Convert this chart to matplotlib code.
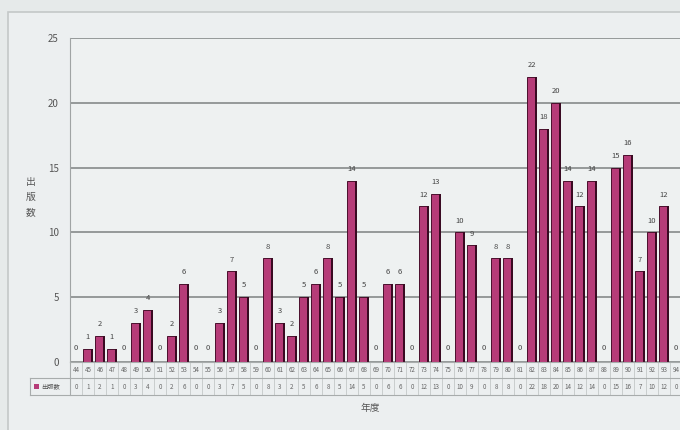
import matplotlib.pyplot as plt
from matplotlib.patches import Rectangle
from matplotlib.lines import Line2D

plt.rcParams['font.family'] = ['Noto Sans CJK JP', 'DejaVu Sans']

# 年度 (44 .. 94) と出版数
years = [str(y) for y in range(44, 95)]
counts = [0, 1, 2, 1, 0, 3, 4, 0, 2, 6,
          0, 0, 3, 7, 5, 0, 8, 3, 2, 5,
          6, 8, 5, 14, 5, 0, 6, 6, 0, 12,
          13, 0, 10, 9, 0, 8, 8, 0, 22, 18,
          20, 14, 12, 14, 0, 15, 16, 7, 10, 12,
          0]
series_name = '出版数'
x_title = '年度'
y_ticks = [0, 5, 10, 15, 20, 25]

W, H = 680, 430
fig = plt.figure(figsize=(6.8, 4.3), dpi=100, facecolor='#e6eaea')

# 外枠 (グラフエリア)
frame = Rectangle((8 / W, -0.1), 1, (H - 12) / H + 0.1, transform=fig.transFigure,
                  facecolor='#eceff0', edgecolor='#c4c8c8', lw=1.2, zorder=-5)
fig.patches.append(frame)

ax = fig.add_axes([70 / W, (H - 362) / H, 610 / W, (362 - 38) / H])
ax.set_facecolor('#eef1f1')
xs = list(range(len(counts)))
ax.set_xlim(-0.5, len(counts) - 1 + 4 / 12)
ax.set_ylim(0, 25)

# 3D風の棒: 正面 + 暗い側面
ax.bar([x - 0.09 for x in xs], counts, width=0.62, color='#b63c78',
       edgecolor='#4a0f2c', linewidth=0.7, zorder=3)
ax.bar([x + 0.3 for x in xs], counts, width=0.16, color='#3a0a22',
       linewidth=0, zorder=3)

for x, v in zip(xs, counts):
    ax.text(x, v + 0.6 if v else 0.8, str(v), ha='center', va='bottom',
            fontsize=5.5, color='#444444', zorder=4)

ax.set_yticks(y_ticks)
ax.set_yticklabels([str(t) for t in y_ticks], fontsize=7, color='#555555')
ax.tick_params(axis='y', length=0, pad=8)
ax.set_xticks([])
ax.grid(axis='y', color='#8e9292', lw=1.3, zorder=1)
for s in ['top', 'right', 'bottom']:
    ax.spines[s].set_visible(False)
ax.spines['left'].set_color('#a0a4a4')

# データテーブル
top = (H - 362) / H
row1 = (H - 378) / H
row2 = (H - 395) / H
line_kw = dict(transform=fig.transFigure, color='#a8acac', lw=0.8)
fig.add_artist(Line2D([70 / W, 1], [top, top], **line_kw))
fig.add_artist(Line2D([30 / W, 1], [row1, row1], **line_kw))
fig.add_artist(Line2D([30 / W, 1], [row2, row2], **line_kw))
fig.add_artist(Line2D([30 / W, 30 / W], [row2, row1], **line_kw))
fig.add_artist(Line2D([70 / W, 70 / W], [row2, top], **line_kw))

tr = ax.get_xaxis_transform()
for x, yl, v in zip(xs, years, counts):
    ax.text(x, -8 / 324, yl, transform=tr, ha='center', va='center',
            fontsize=4.5, color='#666666', clip_on=False)
    ax.text(x, -25 / 324, str(v), transform=tr, ha='center', va='center',
            fontsize=4.5, color='#666666', clip_on=False)
    ax.add_line(Line2D([x + 0.5, x + 0.5], [-33 / 324, 0], transform=tr,
                       color='#c4c8c8', lw=0.6, clip_on=False))

fig.patches.append(Rectangle((34 / W, (H - 389) / H), 5 / W, 5 / H,
                             transform=fig.transFigure, facecolor='#b63c78'))
fig.text(41 / W, (H - 386.5) / H, series_name, fontsize=4.5, color='#555555',
         ha='left', va='center')

fig.text(370 / W, (H - 408) / H, x_title, fontsize=7, color='#555555',
         ha='center', va='center')
fig.text(31 / W, (H - 197) / H, '\n'.join(series_name), fontsize=7, color='#555555',
         ha='center', va='center', linespacing=1.6)

fig.savefig('out.png', dpi=100, facecolor=fig.get_facecolor())
